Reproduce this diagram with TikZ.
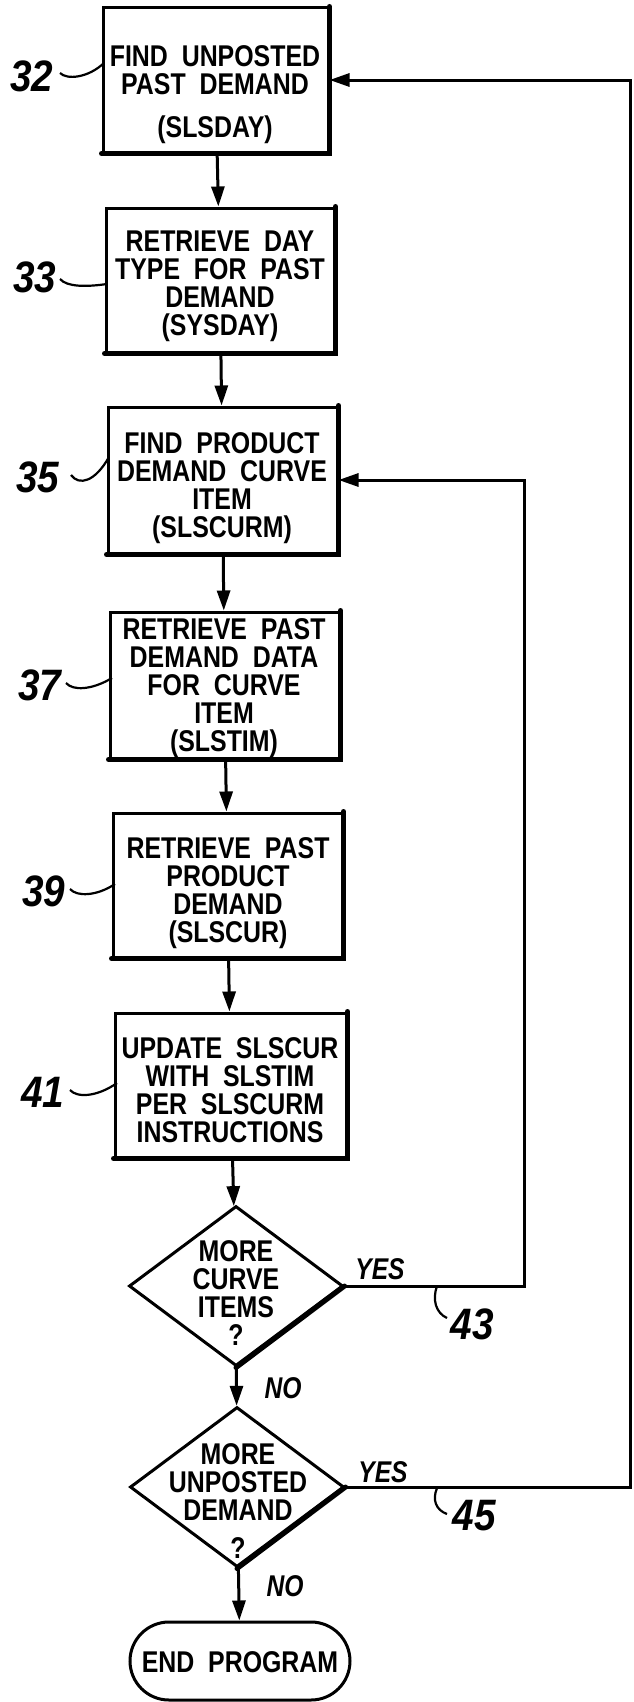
\documentclass[tikz,border=0pt]{standalone}
\usepackage{fontspec}
\setmainfont{Liberation Sans}
\newfontfamily\boxfont{Liberation Sans}[FakeStretch=0.83,WordSpace=2]
\newfontfamily\numfont{Liberation Sans}[FakeStretch=0.88]
\newfontfamily\ynfont{Liberation Sans}[FakeStretch=0.82]
\usetikzlibrary{arrows.meta,shapes.geometric}
\tikzset{
  boxn/.style={draw, line width=3pt, inner sep=0pt, minimum height=144pt},
  heavy/.style={line width=5pt, line cap=round},
  txt/.style={font=\boxfont\bfseries\fontsize{30}{28}\selectfont, align=center, inner sep=0pt},
  dia/.style={draw, diamond, line width=3pt, inner sep=0pt, minimum width=214pt, minimum height=160pt},
  endn/.style={draw, line width=3pt, rounded corners=39pt, minimum width=220pt, minimum height=78pt, inner sep=0pt},
  num/.style={font=\numfont\bfseries\itshape\fontsize{44}{44}\selectfont, inner sep=0pt},
  yn/.style={font=\ynfont\bfseries\itshape\fontsize{30}{30}\selectfont, inner sep=0pt},
  arr/.style={line width=3pt, -{Triangle[length=20pt,width=13pt]}},
  lead/.style={line width=2.2pt},
}
\begin{document}
\begin{tikzpicture}[x=1pt,y=-1pt]
\useasboundingbox (0,0) rectangle (634,1702);

% boxes
\node[boxn, minimum width=225pt] (b32) at (215.5,80) {};
\node[boxn, minimum width=228pt] (b33) at (220,280) {};
\node[boxn, minimum width=229pt, minimum height=146pt] (b35) at (222.5,480) {};
\node[boxn, minimum width=229pt, minimum height=146pt] (b37) at (224.5,685) {};
\node[boxn, minimum width=229pt] (b39) at (227.5,885) {};
\node[boxn, minimum width=231pt] (b41) at (230.5,1085) {};
\node[dia] (d1) at (236,1286) {};
\node[dia] (d2) at (237,1487) {};
\node[endn] (end) at (240,1661) {};

% heavy right/bottom edges
\foreach \b in {b32,b33,b35,b37,b39,b41}
  \draw[heavy] (\b.north east) -- (\b.south east) -- (\b.south west);
\draw[heavy] (d1.east) -- (d1.south);
\draw[heavy] (d2.east) -- (d2.south);

% texts
\node[txt] (t32) at (215,95) {FIND UNPOSTED\\PAST DEMAND\\[15pt](SLSDAY)};
\node[txt] (t33) at (220,286) {RETRIEVE DAY\\TYPE FOR PAST\\DEMAND\\(SYSDAY)};
\node[txt] (t35) at (222,488) {FIND PRODUCT\\DEMAND CURVE\\ITEM\\(SLSCURM)};
\node[txt] (t37) at (224,688) {RETRIEVE PAST\\DEMAND DATA\\FOR CURVE\\ITEM\\(SLSTIM)};
\node[txt] (t39) at (228,893) {RETRIEVE PAST\\PRODUCT\\DEMAND\\(SLSCUR)};
\node[txt] (t41) at (230,1090) {UPDATE SLSCUR\\WITH SLSTIM\\PER SLSCURM\\INSTRUCTIONS};
\node[txt] (td1) at (236,1293) {MORE\\CURVE\\ITEMS\\?};
\node[txt] (td2) at (238,1501) {MORE\\UNPOSTED\\DEMAND\\[10pt]?};
\node[txt] (tend) at (240,1662) {END PROGRAM};

% reference numbers
\node[num] (n32) at (32,76) {32};
\node[num] (n33) at (35,277) {33};
\node[num] (n35) at (38,477) {35};
\node[num] (n37) at (40,685) {37};
\node[num] (n39) at (44,891) {39};
\node[num] (n41) at (43,1092) {41};
\node[num] (n43) at (472,1324) {43};
\node[num] (n45) at (474,1516) {45};

% yes / no
\node[yn] (y1) at (380,1269) {YES};
\node[yn] (y2) at (383,1472) {YES};
\node[yn] (no1) at (283,1388) {NO};
\node[yn] (no2) at (285,1586) {NO};

% main flow
\draw[arr] (b32) -- (b33);
\draw[arr] (b33) -- (b35);
\draw[arr] (b35) -- (b37);
\draw[arr] (b37) -- (b39);
\draw[arr] (b39) -- (b41);
\draw[arr] (b41) -- (d1);
\draw[arr] (d1) -- (d2);
\draw[arr] (d2) -- (end);

% loops
\coordinate (c43) at (524,1286);
\coordinate (c45) at (630,1487);
\draw[arr, line join=miter] (d1.east) -- (c43) |- (b35.east);
\draw[arr, line join=miter] (d2.east) -- (c45) |- (b32.east);

% leaders
\coordinate (l32) at (104,63);
\coordinate (l33) at (107,284);
\coordinate (l35) at (109,457);
\coordinate (l37) at (112,678);
\coordinate (l39) at (115,884);
\coordinate (l41) at (117,1083);
\coordinate (l43) at (437,1286);
\coordinate (l45) at (437,1488);
\draw[lead] (60,73) .. controls (67,80) and (88,78) .. (l32);
\draw[lead] (60,279) .. controls (67,287) and (86,287) .. (l33);
\draw[lead] (71,475) .. controls (79,486) and (95,482) .. (l35);
\draw[lead] (66,683) .. controls (73,691) and (92,690) .. (l37);
\draw[lead] (70,889) .. controls (77,897) and (97,896) .. (l39);
\draw[lead] (70,1090) .. controls (77,1098) and (97,1097) .. (l41);
\draw[lead] (l43) .. controls (432,1300) and (436,1313) .. (447,1318);
\draw[lead] (l45) .. controls (432,1500) and (436,1510) .. (447,1514);
\end{tikzpicture}
\end{document}
